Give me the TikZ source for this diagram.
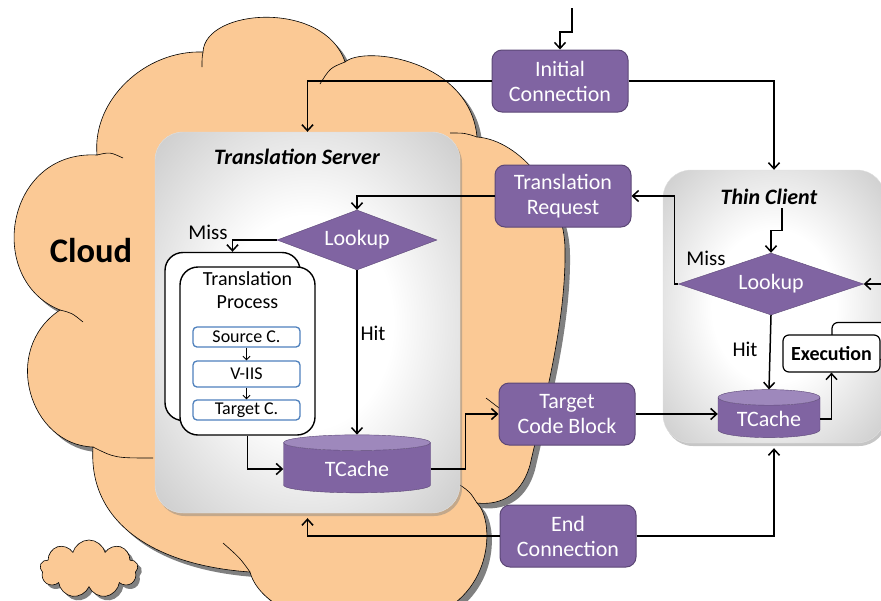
\documentclass[tikz,border=0pt]{standalone}
\usepackage{fontspec}
\setmainfont{Carlito}
\usetikzlibrary{calc,arrows.meta,shapes.geometric,shapes.symbols,shadows}

\definecolor{cloudfill}{RGB}{251,201,149}
\definecolor{boxpurple}{RGB}{128,100,162}
\definecolor{boxedge}{RGB}{92,71,118}
\definecolor{cachetop}{RGB}{158,136,188}
\definecolor{stepblue}{RGB}{79,129,189}

\pgfdeclareradialshading{panel}{\pgfpoint{0bp}{0bp}}{color(0bp)=(white); color(14bp)=(white); color(50bp)=(black!34); color(72bp)=(black!52)}

\newcommand\cloudoutline{(97,155) .. controls (92,100) and (145,50) .. (203,52)
  .. controls (205,8) and (325,0) .. (345,62)
  .. controls (365,45) and (470,60) .. (477,137)
  .. controls (520,140) and (565,195) .. (565,250)
  .. controls (566,320) and (545,400) .. (530,465)
  .. controls (520,500) and (495,505) .. (477,503)
  .. controls (495,520) and (495,600) .. (420,620)
  .. controls (330,640) and (260,610) .. (250,572)
  .. controls (150,565) and (88,520) .. (93,447)
  .. controls (30,445) and (0,350) .. (60,310)
  .. controls (-15,280) and (5,150) .. (97,155) -- cycle}

\tikzset{
  msg/.style={draw=boxedge, line width=1pt, fill=boxpurple, rounded corners=10pt,
    text=white, align=center, minimum width=136pt, minimum height=62pt,
    font=\fontsize{22}{25}\selectfont},
  lookup/.style={diamond, aspect=2.7, inner sep=0pt, fill=boxpurple, draw=boxedge,
    text=white, font=\fontsize{22}{25}\selectfont},
  tcache/.style={cylinder, shape border rotate=90, aspect=0.22, draw=boxedge,
    cylinder uses custom fill, cylinder body fill=boxpurple, cylinder end fill=cachetop,
    text=white, font=\fontsize{22}{25}\selectfont},
  panel/.style={rounded corners=28pt, shading=panel, draw=black!12,
    drop shadow={shadow xshift=2pt, shadow yshift=-3pt, opacity=.45}},
  procbox/.style={draw, line width=1.4pt, fill=white, rounded corners=18pt,
    minimum width=135pt, minimum height=168pt},
  stage/.style={draw=stepblue, line width=1.3pt, fill=white, rounded corners=4pt,
    minimum width=107pt, inner sep=0pt, font=\fontsize{18}{20}\selectfont},
  lbl/.style={font=\fontsize{21}{24}\selectfont},
  title/.style={font=\fontsize{22}{25}\selectfont\bfseries\itshape},
  wire/.style={line width=1.5pt, -{Straight Barb[length=6pt,width=11pt]}}
}

\begin{document}
\begin{tikzpicture}[x=1pt, y=-1pt]
\useasboundingbox (0,0) rectangle (881,600);
\clip (0,0) rectangle (881,600);

% cloud with its shadow
\fill[black!50, shift={(5,5)}] \cloudoutline;
\fill[cloudfill] \cloudoutline;
\draw[line width=.6pt] \cloudoutline;
\draw[line width=.6pt] (97,155) .. controls (110,152) .. (123,158);
\draw[line width=.6pt] (203,52) .. controls (202,58) .. (202,67);
\draw[line width=.6pt] (345,62) .. controls (330,68) .. (320,84);
\draw[line width=.6pt] (477,137) .. controls (465,133) .. (450,133);
\draw[line width=.6pt] (60,310) .. controls (72,313) .. (83,322);
\draw[line width=.6pt] (93,447) .. controls (115,458) .. (153,458);
\draw[line width=.6pt] (250,572) .. controls (240,558) .. (223,543);
\draw[line width=.6pt] (477,503) .. controls (470,492) .. (460,485);
\draw[line width=.6pt] (486,398) -- (503,411);
\node[font=\fontsize{34.5}{38}\selectfont\bfseries] (cloudname) at (91,251) {Cloud};

\node[cloud, cloud puffs=9, aspect=1.7, fill=cloudfill, draw, line width=.6pt,
  minimum width=98pt, minimum height=58pt,
  drop shadow={shadow xshift=4pt, shadow yshift=-4pt, fill=black!50, opacity=1}] (puff) at (89,569) {};

% server and client
\node[panel, minimum width=305pt, minimum height=381pt] (server) at (307.5,322.5) {};
\node[title] (stitle) at (297,157) {Translation Server};
\node[panel, minimum width=222pt, minimum height=273pt] (client) at (774,306.5) {};
\node[title] (ctitle) at (769,197) {Thin Client};

% messages
\node[msg] (init) at (560,81) {Initial\\Connection};
\node[msg] (treq) at (563,196) {Translation\\Request};
\node[msg] (tcb) at (567,414) {Target\\Code Block};
\node[msg] (endc) at (568,536) {End\\Connection};

% server side
\node[lookup, minimum width=160pt, minimum height=60pt] (slook) at (357,240) {Lookup};
\node[tcache, minimum width=147pt, minimum height=58pt] (scache) at (357,469) {TCache};
\node[procbox] (procback) at (232.5,336.5) {};
\node[procbox] (proc) at (247.5,351) {};
\node[font=\fontsize{20}{23}\selectfont, align=center] (proctext) at (247.5,290) {Translation\\Process};
\node[stage, minimum height=20pt] (src) at (246.5,337) {Source C.};
\node[stage, minimum height=26pt] (viis) at (246.5,374) {V-IIS};
\node[stage, minimum height=20pt] (tgt) at (246.5,410) {Target C.};
\draw[line width=.9pt, -{Straight Barb[length=3.5pt,width=7pt]}] (src) -- (viis);
\draw[line width=.9pt, -{Straight Barb[length=3.5pt,width=7pt]}] (viis) -- (tgt);

% client side
\node[lookup, minimum width=185pt, minimum height=62pt] (clook) at (771,284) {Lookup};
\node[tcache, minimum width=102pt, minimum height=48pt] (ccache) at (769,419) {TCache};
\node[draw, line width=1.2pt, fill=white, rounded corners=6pt,
  minimum width=76pt, minimum height=37pt] (execback) at (870,341) {};
\node[draw, line width=1.2pt, fill=white, rounded corners=6pt,
  minimum width=97pt, minimum height=37pt, font=\fontsize{20}{22}\selectfont\bfseries] (exec) at (831.5,353.5) {Execution};

% connections
\coordinate (entry) at (572,8);
\coordinate (loopin) at (895,284);
\draw[wire] (entry) -- ++(0,24) -| (init.north);
\draw[wire] (init.west) -| (server.north);
\draw[wire] (init.east) -| (client.north);
\draw[wire] ($(ctitle.south)+(13,0)$) -- ++(0,22) -| (clook.north);
\draw[wire] (clook.west) -- ++(-4,0) |- (treq.east);
\node[lbl] (cmiss) at (706,258) {Miss};
\draw[wire] (treq.west) -| (slook.north);
\draw[wire] (slook.west) -| (procback.north);
\node[lbl] (smiss) at (208,232) {Miss};
\draw[wire] (slook.south) -- (scache.north);
\node[lbl] (shit) at (373,333) {Hit};
\draw[wire] (proc.south) |- (scache.west);
\draw[wire] (scache.east) -- ++(35,0) |- (tcb.west);
\draw[wire] (tcb.east) -- (tcb.east -| ccache.west);
\draw[wire] (clook.south) -- (ccache.north);
\node[lbl] (chit) at (745,349) {Hit};
\draw[wire] (ccache.east) -| (exec.south);
\draw[wire] (loopin) -- (clook.east);
\draw[wire, shorten >=5pt] (endc.west) -| (server.south);
\draw[wire, shorten >=5pt] (endc.east) -| (client.south);
\end{tikzpicture}
\end{document}
